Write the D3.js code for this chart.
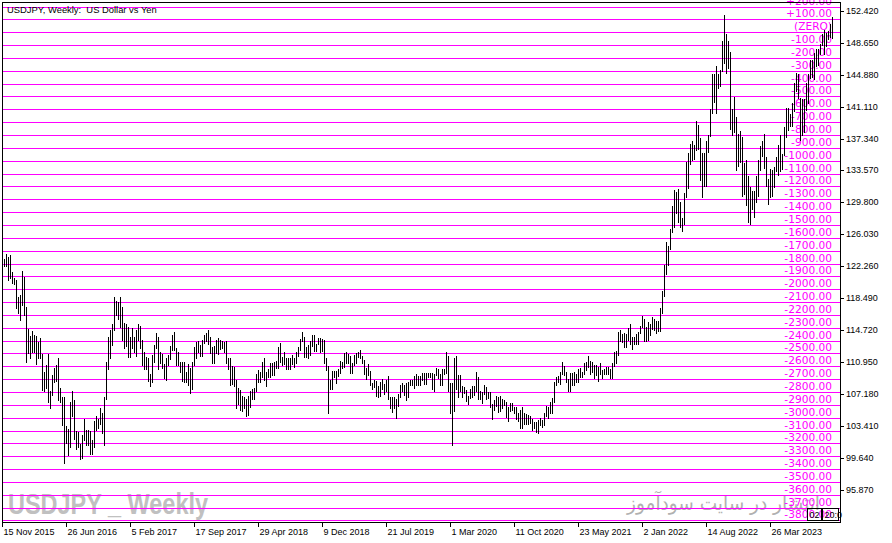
<!DOCTYPE html>
<html><head><meta charset="utf-8">
<script src="https://cdn.jsdelivr.net/npm/d3@7"></script>
<style>body{margin:0;background:#fff}svg{display:block}</style>
</head><body>
<svg id="c" width="892" height="543"></svg>
<script>
// ---------------- DATA ----------------
const chartTitle = "USDJPY, Weekly:  US Dollar vs Yen";
const watermarkSymbol = "USDJPY _ Weekly";
const watermarkSite = "انتشار در سایت سودآموز";
const firstWeek = "15 Nov 2015"; // week index 0

// weekly highs / lows, one value per week, from 15 Nov 2015
const high2015 = [123.6,123.1,123.7,123.4,123.6,121.6,120.9];
const low2015  = [122.2,122.3,122.3,120.6,120.9,120.3,120.2];
const high2016 = [120.7,118.6,118.9,121.7,121.0,117.5,114.9,114.0,114.6,114.2,114.0,113.3,113.8,111.9,109.8,110.6,111.9,107.5,109.4,110.3,110.6,111.4,107.9,106.9,106.8,103.4,103.1,106.3,107.5,106.5,102.8,102.7,101.3,102.4,104.2,103.0,103.0,102.8,101.8,104.0,104.6,104.2,105.5,105.0,106.9,110.95,113.9,114.8,115.4,118.66,118.2,118.0];
const low2016  = [117.3,116.8,115.97,117.7,116.5,110.98,112.0,111.4,112.2,112.2,110.7,111.5,111.4,107.7,107.6,107.9,106.3,105.55,107.1,108.6,108.7,106.5,106.3,103.55,99.0,101.45,99.99,100.9,104.6,101.9,100.7,101.0,99.5,99.6,101.8,101.2,101.2,100.1,100.1,101.0,103.0,103.2,103.6,102.6,101.2,106.6,110.1,111.4,113.0,114.8,116.5,116.0];
const high2017 = [118.6,117.5,115.6,115.4,115.1,113.9,114.95,113.9,114.7,115.5,115.2,113.6,112.2,111.6,111.4,109.6,111.8,113.0,114.4,113.9,112.1,111.9,110.7,111.4,111.8,112.9,114.2,114.5,112.6,112.2,111.0,110.95,110.95,109.8,110.7,110.3,111.0,112.7,113.3,113.4,113.0,113.6,114.2,114.4,114.7,113.9,112.7,112.9,113.6,113.75,113.6,113.4];
const low2017  = [115.1,113.6,112.6,112.9,111.6,111.6,112.6,112.1,111.7,113.6,112.6,110.6,110.1,110.1,108.7,108.1,108.6,111.0,112.6,110.2,110.8,110.3,109.1,108.8,110.6,111.3,112.4,112.4,110.6,110.6,109.8,108.7,108.6,108.6,108.3,107.3,107.8,110.6,111.5,112.2,111.7,111.7,113.2,113.4,113.1,112.0,110.8,110.8,112.0,111.97,112.5,112.6];
const high2018 = [113.3,113.4,111.5,111.4,110.5,110.4,108.8,107.9,107.7,107.0,106.9,106.6,107.0,107.5,107.8,107.9,109.5,110.0,109.8,111.0,111.4,109.8,110.2,110.9,110.8,111.0,111.1,112.8,113.2,111.6,112.2,111.5,111.4,111.5,111.8,111.5,112.1,112.8,113.7,114.55,113.9,112.7,113.0,113.4,114.1,114.2,113.1,113.8,113.8,113.7,113.6,111.4];
const low2018  = [112.1,110.9,110.2,108.3,108.4,108.1,105.6,106.0,105.25,105.2,105.6,104.6,104.7,105.7,106.6,106.6,107.5,108.6,108.6,109.2,108.9,108.1,109.2,109.2,109.4,109.4,110.3,110.3,111.0,110.6,110.75,110.1,110.1,110.1,110.7,110.4,110.8,111.7,112.4,113.4,111.6,111.6,111.4,111.8,112.9,112.3,112.3,113.1,112.2,112.3,110.8,110.0];
const high2019 = [110.5,108.9,109.9,109.9,109.9,110.2,111.1,111.0,112.0,112.1,111.9,111.7,110.9,111.8,112.0,112.2,112.4,111.7,111.2,110.3,110.7,109.9,108.5,108.8,108.7,108.1,108.6,108.99,108.4,108.8,109.3,106.9,106.9,106.9,106.6,107.2,108.3,108.5,108.2,108.5,108.6,108.9,108.8,109.3,109.5,109.3,109.3,109.7,109.7,109.7,109.7,109.7];
const low2019  = [104.9,107.8,107.8,109.2,108.5,109.3,109.7,110.3,110.4,110.8,110.8,109.7,109.7,110.6,110.8,111.6,111.4,110.9,109.5,109.0,109.4,108.3,107.8,108.0,107.0,106.8,107.0,107.8,107.2,107.6,106.6,105.5,105.1,105.5,104.4,105.8,106.8,107.5,107.1,106.5,106.8,108.3,108.2,107.9,108.2,108.2,108.2,108.9,108.4,108.4,109.2,109.2];
const high2020 = [109.7,109.6,110.3,110.2,109.6,110.1,110.1,112.2,111.7,108.5,108.5,111.5,111.7,109.4,109.4,108.1,108.0,107.7,107.0,107.8,108.1,108.1,109.85,109.2,107.6,107.4,108.2,108.0,107.4,107.4,106.0,106.5,107.0,106.9,106.95,106.6,106.5,106.2,105.7,106.1,106.1,105.7,105.7,105.0,105.35,105.7,104.9,104.8,104.75,104.55,104.2,103.9];
const low2020  = [107.8,107.6,109.4,109.1,108.3,108.3,109.6,109.7,107.5,105.0,101.2,105.2,107.8,106.9,107.6,106.9,107.3,106.4,106.0,106.7,106.8,107.1,107.6,106.6,106.6,106.1,107.2,106.6,106.7,105.7,104.2,105.3,105.8,105.1,105.2,105.6,105.9,104.5,104.0,105.2,105.3,104.9,104.3,104.0,103.2,103.2,103.7,103.65,103.65,103.8,102.9,103.2];
const high2021 = [103.9,104.1,104.4,104.1,104.9,105.8,105.7,106.2,106.7,108.6,109.2,109.3,109.85,110.97,110.55,109.8,108.95,109.7,109.7,109.8,109.5,110.2,110.3,109.85,110.8,111.0,111.65,111.1,111.0,110.6,110.6,110.4,110.8,110.0,110.2,110.4,110.4,110.1,110.8,112.1,112.25,114.5,114.7,114.3,114.45,114.3,114.95,115.5,113.9,113.9,114.3,114.5];
const low2021  = [102.7,102.6,103.5,103.3,103.5,104.6,104.4,104.9,104.9,106.3,108.3,108.6,108.4,109.6,109.4,108.6,107.5,107.5,108.3,108.3,108.6,108.6,109.2,109.2,109.6,110.0,110.4,109.5,109.8,109.1,109.4,108.7,109.5,109.1,109.6,109.6,109.6,109.1,109.1,110.5,110.8,111.8,113.4,113.3,112.7,112.7,113.6,113.05,112.5,113.1,113.1,113.1];
const high2022 = [115.2,116.35,116.0,115.1,115.7,115.4,116.3,116.0,115.8,115.8,117.4,119.4,122.4,125.1,124.7,126.7,129.4,131.25,131.0,131.35,129.8,128.0,130.95,134.55,135.6,136.7,137.0,136.6,139.4,138.9,137.45,135.6,135.6,137.0,137.7,140.8,144.99,144.95,145.9,145.0,145.4,148.9,151.94,149.7,148.8,147.6,140.8,142.25,139.9,137.85,138.2,137.5,134.4];
const low2022  = [114.4,115.1,113.5,113.5,113.6,114.15,114.9,114.8,114.4,114.65,114.6,116.7,118.7,121.3,122.4,124.3,126.3,126.9,128.6,127.5,126.95,126.4,127.2,130.4,131.5,134.3,134.75,134.95,135.95,136.1,132.5,130.4,131.7,131.7,135.8,137.65,140.3,141.7,140.35,143.3,143.5,145.3,146.2,145.1,145.7,138.5,137.7,138.05,133.6,134.1,134.6,130.6,130.8];
const high2023 = [134.8,132.9,131.6,131.1,131.2,132.9,134.8,136.5,137.1,137.9,135.1,132.6,133.75,133.6,134.0,135.1,136.6,137.8,135.5,138.75,140.9,140.9,140.2,141.5,143.9,145.07,144.9,142.1,141.95,141.95,143.9,144.9,146.6,146.6,147.4,147.9,147.9,148.5,149.7,150.16,149.8,150.0,150.8,151.7];
const low2023  = [129.5,127.5,127.2,129.0,128.1,129.8,130.5,133.6,135.3,133.9,131.7,129.6,130.4,130.6,131.6,133.5,133.0,133.5,133.7,135.4,137.5,138.4,138.8,138.8,140.6,143.0,142.1,137.2,137.7,138.05,140.7,141.5,144.5,144.55,144.4,145.9,146.0,147.3,148.4,147.3,148.2,149.1,149.3,149.2];

// price axis ticks
const priceTicks = [95.870,99.640,103.410,107.180,110.950,114.720,118.490,122.260,126.030,129.800,133.570,137.340,141.110,144.880,148.650,152.420];
// time axis labels and the week index they sit on
const dateLabels = ["15 Nov 2015","26 Jun 2016","5 Feb 2017","17 Sep 2017","29 Apr 2018","9 Dec 2018","21 Jul 2019","1 Mar 2020","11 Oct 2020","23 May 2021","2 Jan 2022","14 Aug 2022","26 Mar 2023"];
const dateLabelWeeks = [0,32,64,96,128,160,192,224,256,288,320,352,384];

// horizontal level lines (profit levels) and their labels
const levelValues = [200,100,0,-100,-200,-300,-400,-500,-600,-700,-800,-900,-1000,-1100,-1200,-1300,-1400,-1500,-1600,-1700,-1800,-1900,-2000,-2100,-2200,-2300,-2400,-2500,-2600,-2700,-2800,-2900,-3000,-3100,-3200,-3300,-3400,-3500,-3600,-3700,-3800];
const levelZeroPrice = 149.88;
const levelPricePer100 = 1.516;

// ---------------- BUILD ----------------
const highs = [].concat(high2015,high2016,high2017,high2018,high2019,high2020,high2021,high2022,high2023);
const lows  = [].concat(low2015,low2016,low2017,low2018,low2019,low2020,low2021,low2022,low2023);
const bars = highs.map((h,i)=>({i, h, l: lows[i]}));

const W = 892, H = 543;
const plotL = 2, plotR = 840, plotT = 2, plotB = 522;

const svg = d3.select("#c");
svg.append("rect").attr("width",W).attr("height",H).attr("fill","#fff");

const x = d3.scaleLinear().domain([0, 419]).range([plotL, plotR]);
const y = d3.scaleLinear().domain([92.095, 153.445]).range([plotB, plotT]).interpolate(d3.interpolateRound);

const plot = svg.append("g");
svg.append("clipPath").attr("id","pc").append("rect")
  .attr("x",plotL).attr("y",0).attr("width",plotR-plotL).attr("height",plotB);
plot.attr("clip-path","url(#pc)");

// watermarks
plot.append("text").attr("x",8).attr("y",513.5)
  .attr("font-family","Liberation Sans, Arial, sans-serif").attr("font-weight","bold")
  .attr("font-size",30).attr("fill","#c0c0c0")
  .attr("textLength",200).attr("lengthAdjust","spacingAndGlyphs")
  .text(watermarkSymbol);
plot.append("text").attr("x",820).attr("y",510)
  .attr("text-anchor","end")
  .attr("font-family","DejaVu Sans, Noto Sans, sans-serif")
  .attr("font-size",20).attr("fill","#b0b0b0")
  .attr("textLength",193).attr("lengthAdjust","spacingAndGlyphs")
  .text(watermarkSite);

// level lines
const levelPrice = v => levelZeroPrice + v/100*levelPricePer100;
plot.append("g").selectAll("line").data(levelValues).join("line")
  .attr("x1",plotL+1).attr("x2",plotR)
  .attr("y1",d=>y(levelPrice(d))+0.5).attr("y2",d=>y(levelPrice(d))+0.5)
  .attr("stroke","#ff00ff").attr("stroke-width",1);

// level labels
plot.append("g").selectAll("text").data(levelValues).join("text")
  .attr("x",832).attr("y",d=>y(levelPrice(d))-2.5)
  .attr("text-anchor","end")
  .attr("font-family","DejaVu Sans, Verdana, sans-serif").attr("font-size",10.6)
  .attr("fill","#ff00ff")
  .text(d => d>0 ? "+"+d.toFixed(2) : d===0 ? "(ZERO)" : d.toFixed(2));

// bars (high-low)
plot.append("g").selectAll("rect").data(bars).join("rect")
  .attr("x",d=>x(d.i)).attr("width",1)
  .attr("y",d=>y(d.h))
  .attr("height",d=>Math.max(1, y(d.l)-y(d.h)+1))
  .attr("fill","#000");

// frame
svg.append("line").attr("x1",plotL).attr("x2",plotR+1).attr("y1",plotT+0.5).attr("y2",plotT+0.5).attr("stroke","#000");
svg.append("line").attr("x1",plotL+0.5).attr("x2",plotL+0.5).attr("y1",plotT).attr("y2",plotB+1).attr("stroke","#000");

// right price axis
const yAxis = d3.axisRight(y).tickValues(priceTicks).tickFormat(d3.format(".3f")).tickSize(4).tickSizeOuter(0).tickPadding(2);
const ya = svg.append("g").attr("transform",`translate(${plotR},0)`).call(yAxis);
ya.select(".domain").attr("d",`M0.5,${plotT}V${plotB+1}`);
ya.selectAll("text").attr("font-family","Liberation Sans, Arial, sans-serif").attr("font-size",9).attr("fill","#000");
ya.selectAll("line,path").attr("stroke","#000");

// bottom time axis
const xAxis = d3.axisBottom(x).tickValues(dateLabelWeeks).tickFormat((d,i)=>dateLabels[i]).tickSize(5).tickSizeOuter(0);
const xa = svg.append("g").attr("transform",`translate(0,${plotB})`).call(xAxis);
xa.select(".domain").attr("d",`M${plotL},0.5H${plotR+1}`);
xa.selectAll("text").attr("text-anchor","start").attr("x",1).attr("y",13).attr("dy",0)
  .attr("font-family","Liberation Sans, Arial, sans-serif").attr("font-size",9).attr("fill","#000");
xa.selectAll("line,path").attr("stroke","#000");

// title
svg.append("text").attr("x",7).attr("y",13)
  .attr("font-family","Liberation Sans, Arial, sans-serif").attr("font-size",9.4).attr("fill","#000")
  .style("white-space","pre")
  .text(chartTitle);

// small boxes bottom right
const boxes = [{x:807.5,w:14,t:"02"},{x:822.5,w:16,t:"20:0"}];
const bg = svg.append("g");
bg.selectAll("rect").data(boxes).join("rect")
  .attr("x",d=>d.x).attr("y",508.5).attr("width",d=>d.w).attr("height",12)
  .attr("fill","none").attr("stroke","#000");
bg.selectAll("text").data(boxes).join("text")
  .attr("x",d=>d.x+2).attr("y",518)
  .attr("font-family","Liberation Sans, Arial, sans-serif").attr("font-size",9).attr("fill","#000")
  .text(d=>d.t);
</script>
</body></html>
